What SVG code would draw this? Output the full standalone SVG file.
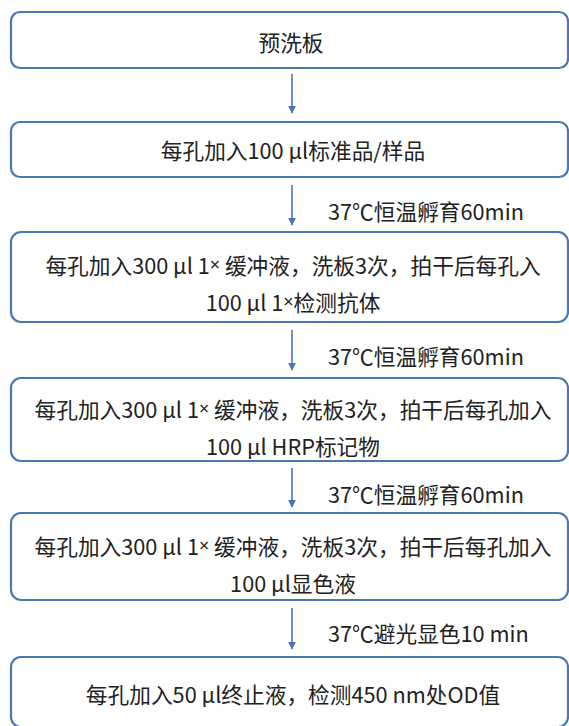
<svg xmlns="http://www.w3.org/2000/svg" width="569" height="726" viewBox="0 0 569 726">
<style>
.box{fill:#ffffff;stroke:#4a78b4;stroke-width:2.2}
.t{font-family:"Noto Sans CJK SC","Noto Sans",sans-serif;font-size:21.7px;fill:#222;text-anchor:middle;dominant-baseline:central}
.l{font-family:"Noto Sans CJK SC","Noto Sans",sans-serif;font-size:21.7px;fill:#222;dominant-baseline:central}
.x{font-family:"Noto Sans",sans-serif;font-size:18px}
.c{stroke:#4a72c0;stroke-width:1.6;fill:none}
</style>
<defs>
<marker id="ah" viewBox="0 0 10 10" refX="9" refY="5" markerWidth="5" markerHeight="5" orient="auto" markerUnits="strokeWidth">
<path d="M0,0 L10,5 L0,10 z" fill="#4a72c0"/>
</marker>
</defs>
<rect width="569" height="726" fill="#ffffff"/>
<g id="connectors">
<line class="c" x1="292" y1="74" x2="292" y2="113" marker-end="url(#ah)"/>
<line class="c" x1="292" y1="185" x2="292" y2="225" marker-end="url(#ah)"/>
<line class="c" x1="292" y1="330" x2="292" y2="370" marker-end="url(#ah)"/>
<line class="c" x1="292" y1="468" x2="292" y2="507" marker-end="url(#ah)"/>
<line class="c" x1="292" y1="608" x2="292" y2="649" marker-end="url(#ah)"/>
<text class="l" x="328" y="210">37℃恒温孵育60min</text>
<text class="l" x="328" y="355">37℃恒温孵育60min</text>
<text class="l" x="328" y="493">37℃恒温孵育60min</text>
<text class="l" x="328" y="632">37℃避光显色10 min</text>
</g>
<g id="n1">
<rect class="box" x="11" y="12" width="557" height="56" rx="9"/>
<text class="t" x="291" y="41">预洗板</text>
</g>
<g id="n2">
<rect class="box" x="11" y="122" width="557" height="55" rx="9"/>
<text class="t" x="293" y="149">每孔加入100 μl标准品/样品</text>
</g>
<g id="n3">
<rect class="box" x="11" y="232" width="557" height="90" rx="10"/>
<text class="t" x="293" y="264">每孔加入300 μl 1<tspan class="x">×</tspan> 缓冲液，洗板3次，拍干后每孔入</text>
<text class="t" x="293" y="301">100 μl 1<tspan class="x">×</tspan>检测抗体</text>
</g>
<g id="n4">
<rect class="box" x="11" y="378" width="557" height="83" rx="10"/>
<text class="t" x="293" y="408">每孔加入300 μl 1<tspan class="x">×</tspan> 缓冲液，洗板3次，拍干后每孔加入</text>
<text class="t" x="293" y="445">100 μl HRP标记物</text>
</g>
<g id="n5">
<rect class="box" x="11" y="513" width="557" height="87" rx="10"/>
<text class="t" x="293" y="545">每孔加入300 μl 1<tspan class="x">×</tspan> 缓冲液，洗板3次，拍干后每孔加入</text>
<text class="t" x="293" y="582">100 μl显色液</text>
</g>
<g id="n6">
<rect class="box" x="11" y="657" width="557" height="70" rx="10"/>
<text class="t" x="293" y="693">每孔加入50 μl终止液，检测450 nm处OD值</text>
</g>
</svg>
